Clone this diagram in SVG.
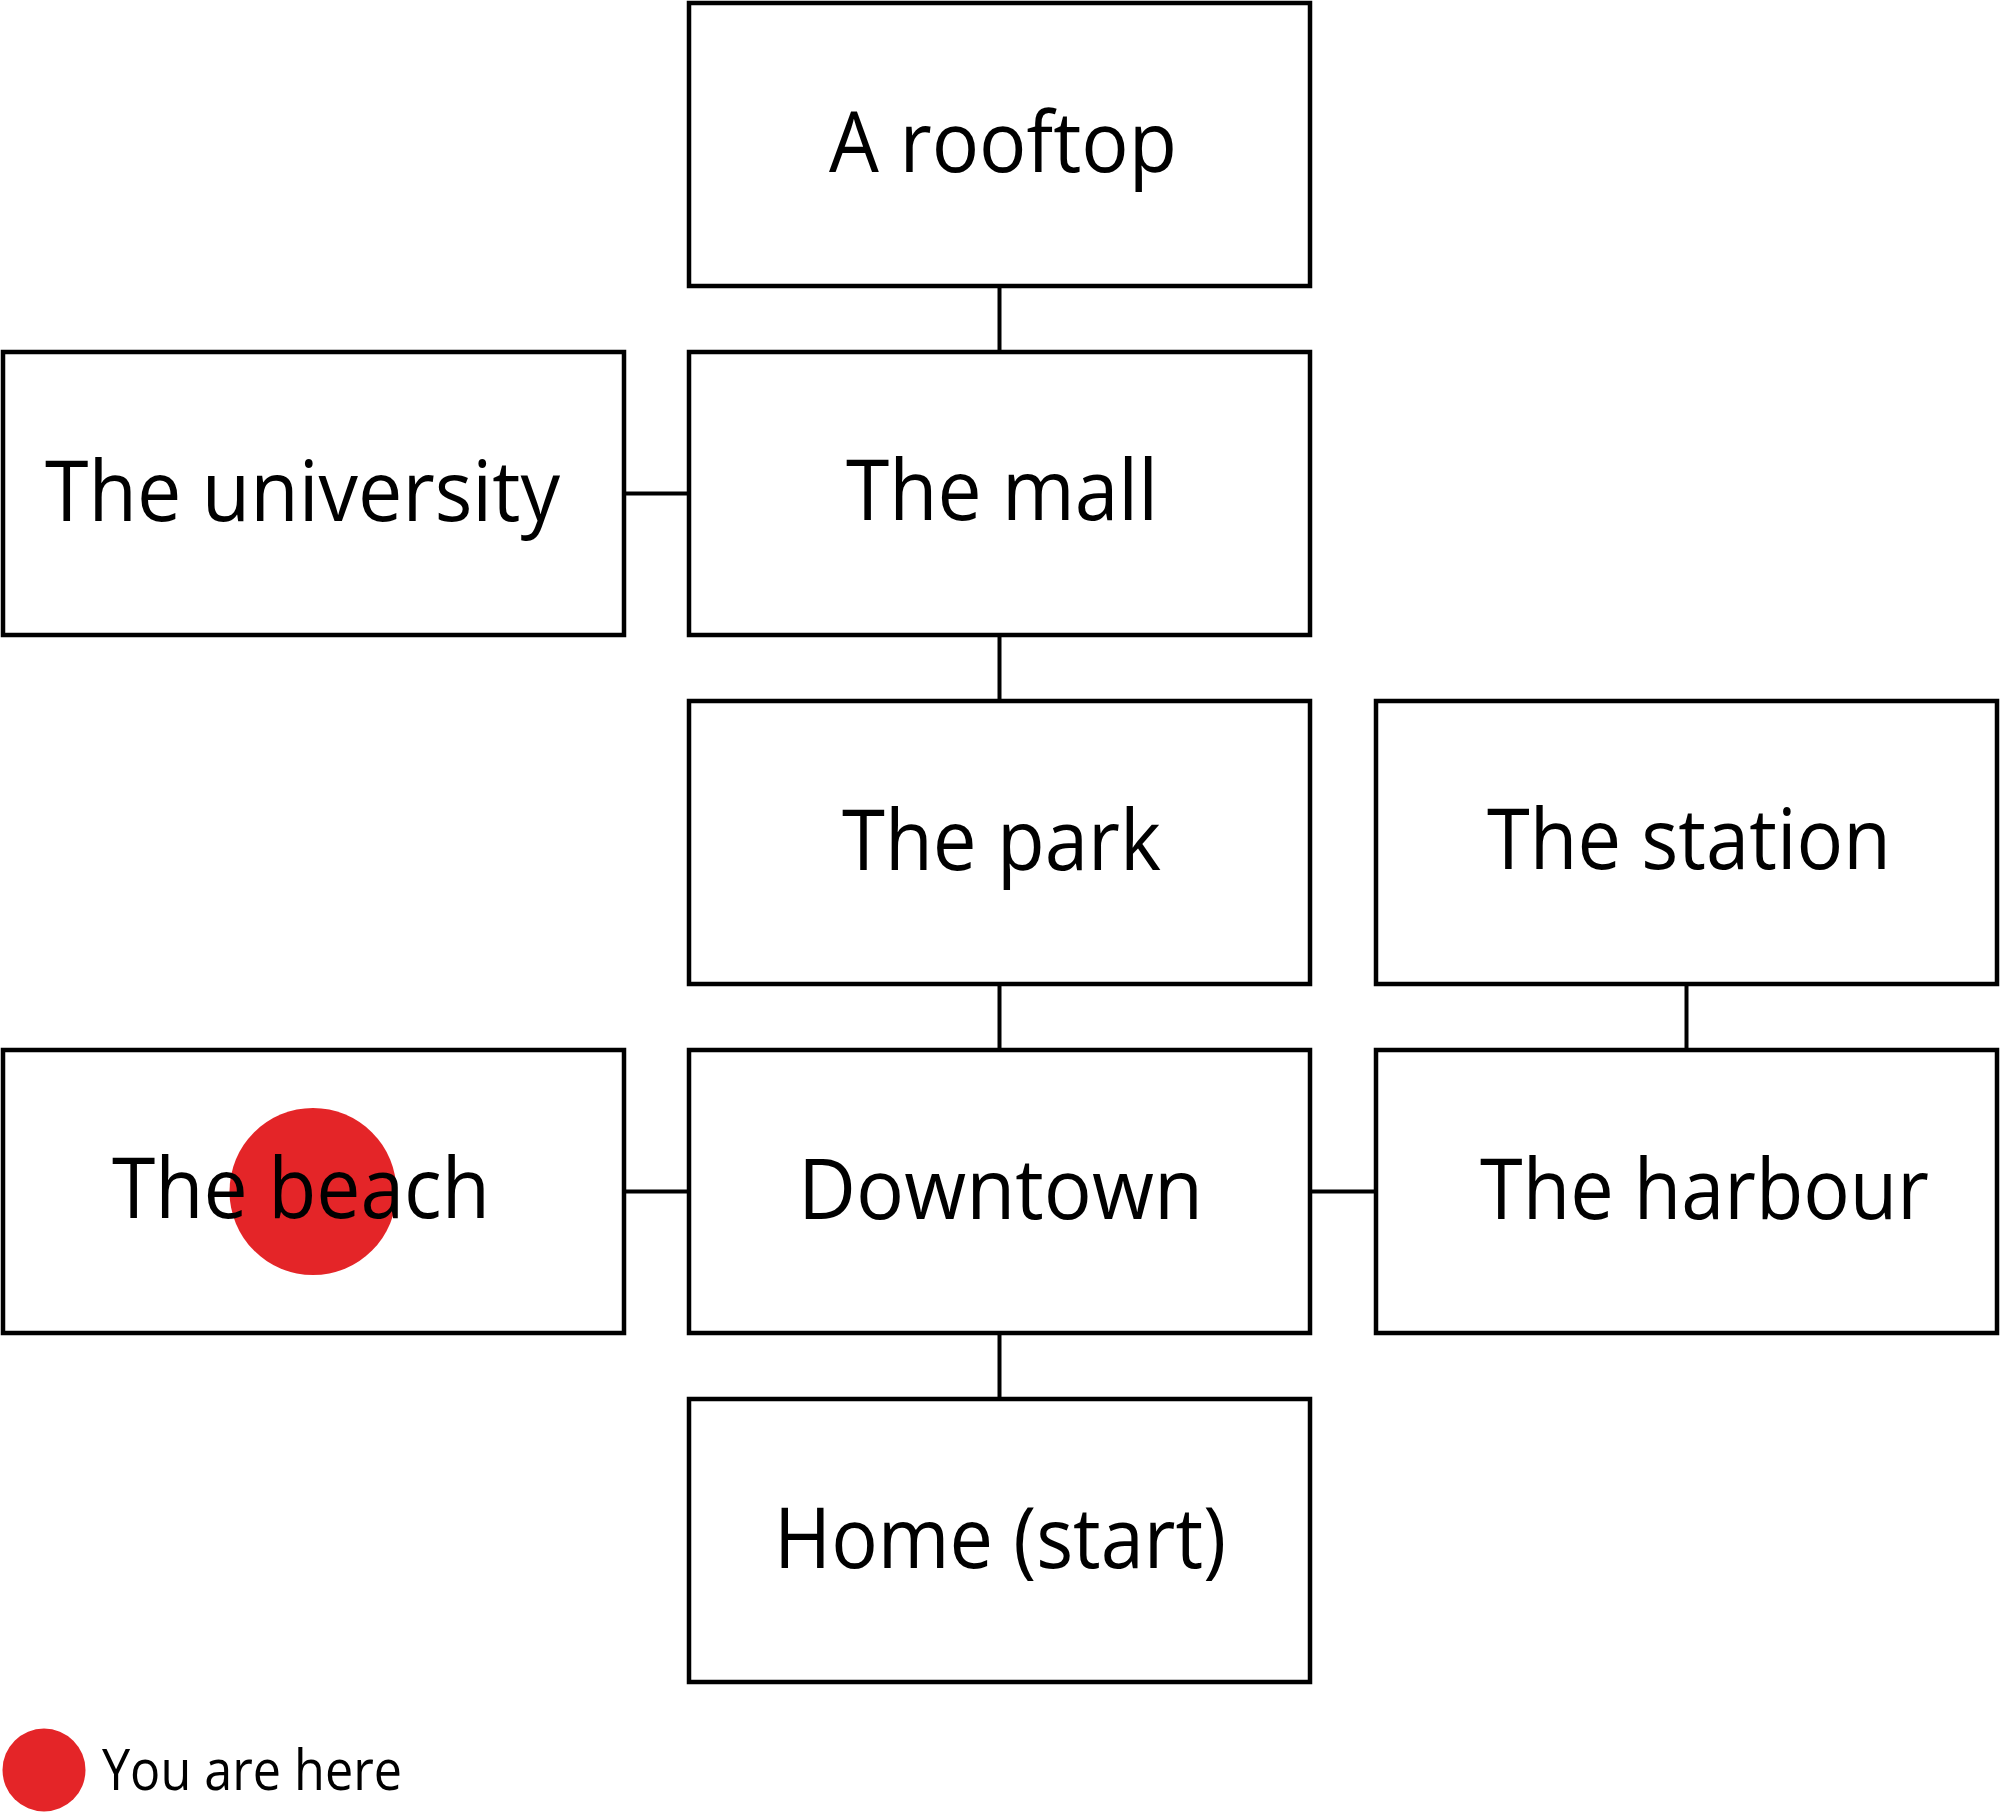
<svg xmlns="http://www.w3.org/2000/svg" width="2000" height="1812" viewBox="0 0 2000 1812">
  <style>
    .box { fill: #ffffff; stroke: #000000; stroke-width: 4.5; }
    .link { stroke: #000000; stroke-width: 4; fill: none; }
    .label { font-family: "Open Sans", "Noto Sans", sans-serif; font-size: 84px; fill: #000000; text-anchor: middle; }
    .legend { font-family: "Open Sans", "Noto Sans", sans-serif; font-size: 57px; fill: #000000; }
    .marker { fill: #e42528; }
  </style>
  <rect width="2000" height="1812" fill="#ffffff"/>

  <!-- connectors between places -->
  <g id="connectors">
    <line class="link" x1="999.5" y1="286" x2="999.5" y2="352"/>
    <line class="link" x1="624" y1="493.5" x2="689" y2="493.5"/>
    <line class="link" x1="999.5" y1="635" x2="999.5" y2="701"/>
    <line class="link" x1="999.5" y1="984" x2="999.5" y2="1050"/>
    <line class="link" x1="1686.5" y1="984" x2="1686.5" y2="1050"/>
    <line class="link" x1="624" y1="1191.5" x2="689" y2="1191.5"/>
    <line class="link" x1="1310" y1="1191.5" x2="1376" y2="1191.5"/>
    <line class="link" x1="999.5" y1="1333" x2="999.5" y2="1399"/>
  </g>

  <g id="rooftop">
    <rect class="box" x="689" y="3" width="621" height="283"/>
    <text class="label" x="1003" y="172" textLength="348" lengthAdjust="spacingAndGlyphs">A rooftop</text>
  </g>

  <g id="university">
    <rect class="box" x="3" y="352" width="621" height="283"/>
    <text class="label" x="302.5" y="521" textLength="515" lengthAdjust="spacingAndGlyphs">The university</text>
  </g>

  <g id="mall">
    <rect class="box" x="689" y="352" width="621" height="283"/>
    <text class="label" x="1002" y="520" textLength="312" lengthAdjust="spacingAndGlyphs">The mall</text>
  </g>

  <g id="park">
    <rect class="box" x="689" y="701" width="621" height="283"/>
    <text class="label" x="1001.5" y="870" textLength="319" lengthAdjust="spacingAndGlyphs">The park</text>
  </g>

  <g id="station">
    <rect class="box" x="1376" y="701" width="621" height="283"/>
    <text class="label" x="1689" y="869" textLength="404" lengthAdjust="spacingAndGlyphs">The station</text>
  </g>

  <g id="beach">
    <rect class="box" x="3" y="1050" width="621" height="283"/>
    <circle class="marker" cx="313" cy="1191.5" r="83.5"/>
    <text class="label" x="301" y="1218" textLength="378" lengthAdjust="spacingAndGlyphs">The beach</text>
  </g>

  <g id="downtown">
    <rect class="box" x="689" y="1050" width="621" height="283"/>
    <text class="label" x="1000.5" y="1219" textLength="405" lengthAdjust="spacingAndGlyphs">Downtown</text>
  </g>

  <g id="harbour">
    <rect class="box" x="1376" y="1050" width="621" height="283"/>
    <text class="label" x="1704.5" y="1219" textLength="449" lengthAdjust="spacingAndGlyphs">The harbour</text>
  </g>

  <g id="home">
    <rect class="box" x="689" y="1399" width="621" height="283"/>
    <text class="label" x="1000" y="1568" textLength="452" lengthAdjust="spacingAndGlyphs">Home (start)</text>
  </g>

  <!-- legend -->
  <g id="legend">
    <circle class="marker" cx="44" cy="1770" r="41.5"/>
    <text class="legend" x="102" y="1790" textLength="300" lengthAdjust="spacingAndGlyphs">You are here</text>
  </g>
</svg>
